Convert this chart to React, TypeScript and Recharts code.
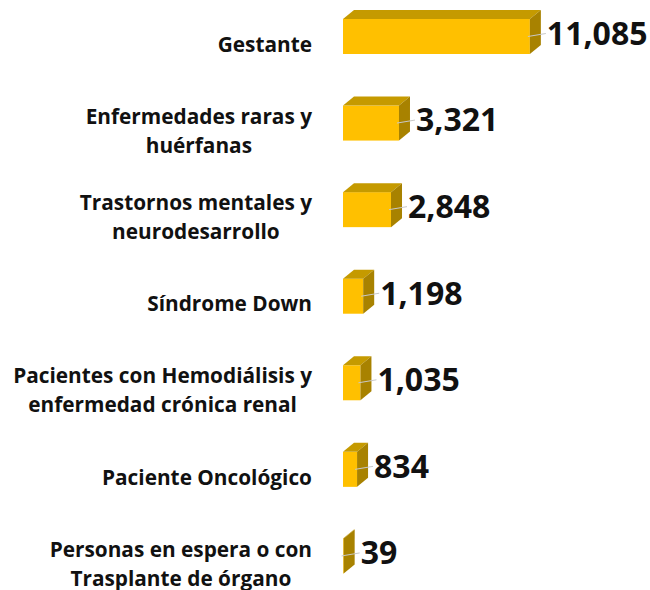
import React from "react";
import { BarChart, Bar, XAxis, YAxis, LabelList } from "recharts";

const categories = [
  "Gestante",
  "Enfermedades raras y\nhuérfanas",
  "Trastornos mentales y\nneurodesarrollo",
  "Síndrome Down",
  "Pacientes con Hemodiálisis y\nenfermedad crónica renal",
  "Paciente Oncológico",
  "Personas en espera o con\nTrasplante de órgano",
];
const pacientes = [11085, 3321, 2848, 1198, 1035, 834, 39];

const data = categories.map((name, i) => ({ name, value: pacientes[i] }));

const FONT = "'Open Sans', 'Noto Sans', sans-serif";
const TICK_SIZE = 20.8;
const DX = 11; // depth of the 3d box
const DY = 9;
const LIFT = 8; // bars sit a little above the label centre

let ctx: CanvasRenderingContext2D | null = null;
const textWidth = (s: string) => {
  if (!ctx) ctx = document.createElement("canvas").getContext("2d");
  if (!ctx) return s.length * TICK_SIZE * 0.6;
  ctx.font = `700 ${TICK_SIZE}px ${FONT}`;
  return ctx.measureText(s).width;
};

const Box3D = (props: any) => {
  const { x, width } = props;
  const y = props.y - LIFT;
  const h = props.height;
  const w = Math.max(width, 0);
  const top = `${x},${y} ${x + DX},${y - DY} ${x + w + DX},${y - DY} ${x + w},${y}`;
  const side = `${x + w},${y} ${x + w + DX},${y - DY} ${x + w + DX},${y + h - DY} ${x + w},${y + h}`;
  return (
    <g>
      <rect x={x} y={y} width={w} height={h} fill="#FFC000" />
      <polygon points={top} fill="#C59A00" />
      <polygon points={side} fill="#A88200" />
      <line
        x1={x + w - 2}
        y1={y + h / 2}
        x2={x + w + DX + 5}
        y2={y + h / 2 - 3}
        stroke="#c8c8c8"
        strokeWidth={1}
      />
    </g>
  );
};

const ValueLabel = (props: any) => {
  const { x, y, width, height, value } = props;
  const cy = y - LIFT + height / 2 - 3;
  return (
    <text
      x={x + Math.max(width, 0) + DX + 6}
      y={cy + 11.4}
      fontFamily={FONT}
      fontWeight={700}
      fontSize={32}
      fill="#111"
    >
      {Number(value).toLocaleString("en-US")}
    </text>
  );
};

const CategoryTick = (props: any) => {
  const { x, y, payload } = props;
  const lines = String(payload.value).split("\n");
  const lh = 29;
  const first = y - ((lines.length - 1) * lh) / 2 + 7.4;
  const maxW = Math.max(...lines.map(textWidth));
  const cx = x - maxW / 2;
  return (
    <text
      textAnchor="middle"
      fontFamily={FONT}
      fontWeight={700}
      fontSize={TICK_SIZE}
      fill="#111"
    >
      {lines.map((l, i) => (
        <tspan key={i} x={cx} y={first + i * lh}>
          {l}
        </tspan>
      ))}
    </text>
  );
};

export default function App() {
  return (
    <div
      style={{
        position: "absolute",
        left: 0,
        top: 0,
        width: 650,
        height: 590,
        overflow: "hidden",
        background: "#fff",
      }}
    >
      <BarChart
        width={650}
        height={610}
        data={data}
        layout="vertical"
        margin={{ top: 1, right: 71, left: 0, bottom: 3 }}
        barCategoryGap={0}
      >
        <XAxis type="number" hide domain={[0, 14000]} />
        <YAxis
          type="category"
          dataKey="name"
          width={343}
          axisLine={false}
          tickLine={false}
          tickSize={0}
          tickMargin={31}
          interval={0}
          tick={<CategoryTick />}
        />
        <Bar
          dataKey="value"
          barSize={35}
          shape={<Box3D />}
          isAnimationActive={false}
        >
          <LabelList dataKey="value" content={<ValueLabel />} />
        </Bar>
      </BarChart>
    </div>
  );
}
